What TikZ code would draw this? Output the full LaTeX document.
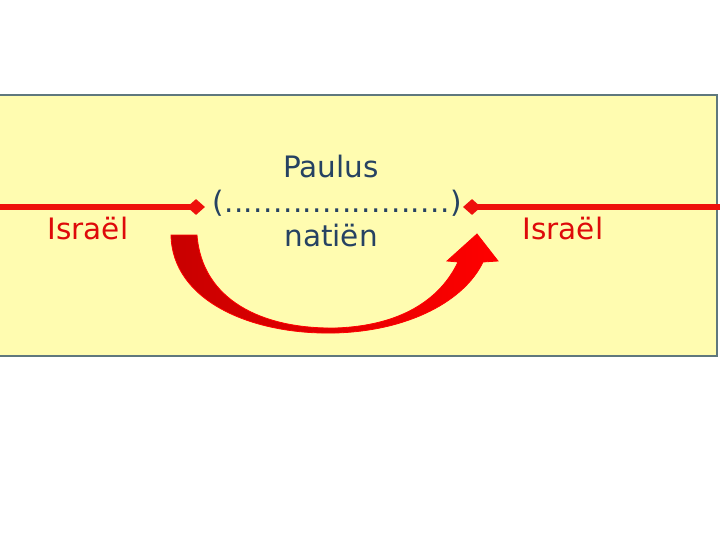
\documentclass[tikz,border=0pt]{standalone}
\usepackage{fontspec}
\setmainfont{DejaVu Sans}
\usetikzlibrary{shapes.geometric}
\definecolor{bgyellow}{RGB}{255,252,176}
\definecolor{boxedge}{RGB}{95,120,125}
\definecolor{linered}{RGB}{238,16,12}
\definecolor{txtred}{RGB}{222,10,10}
\definecolor{txtblue}{RGB}{38,66,98}
\definecolor{darkred}{RGB}{200,0,0}
\tikzset{
  redline/.style={draw=linered, line width=5.5pt},
  tip/.style={diamond, fill=linered, inner sep=0pt, minimum width=18pt, minimum height=16pt},
  redtext/.style={text=txtred, font=\fontsize{29.5}{31}\selectfont, anchor=base, inner sep=0pt},
  bluetext/.style={text=txtblue, font=\fontsize{29.5}{31}\selectfont, anchor=base, inner sep=0pt}
}
\begin{document}
\begin{tikzpicture}[x=1pt,y=-1pt]
\useasboundingbox (0,0) rectangle (720,540);
\fill[bgyellow] (-3,95) rectangle (717,356);
\draw[boxedge, line width=1.5pt] (-3,95) -- (717,95) -- (717,356) -- (-3,356);
% red lines with diamond ends
\coordinate (lstart) at (-2,207);
\coordinate (rend) at (722,207);
\node[tip] (dl) at (196,207) {};
\node[tip] (dr) at (472,207) {};
\draw[redline] (lstart) -- (dl.center);
\draw[redline] (dr.center) -- (rend);
% labels
\node[redtext] (isl) at (88,240) {Israël};
\node[redtext] (isr) at (563,240) {Israël};
\node[bluetext] (paulus) at (331,178) {Paulus};
\node[bluetext] (dots) at (337,213) {\addfontfeature{LetterSpace=1.5}(.......................)};
\node[bluetext] (natien) at (331,246) {natiën};
% curved arrow
\shade[left color=darkred, middle color=red, right color=red, draw=red, line width=0.8pt]
  (171,235) .. controls (172,300) and (250,335) .. (335,333)
  .. controls (410,331) and (465,300) .. (483,262)
  -- (498,261) -- (477,234) -- (447,261) -- (458,262)
  .. controls (440,300) and (400,326) .. (335,328)
  .. controls (262,329) and (202,300) .. (197,235) -- cycle;
\end{tikzpicture}
\end{document}
